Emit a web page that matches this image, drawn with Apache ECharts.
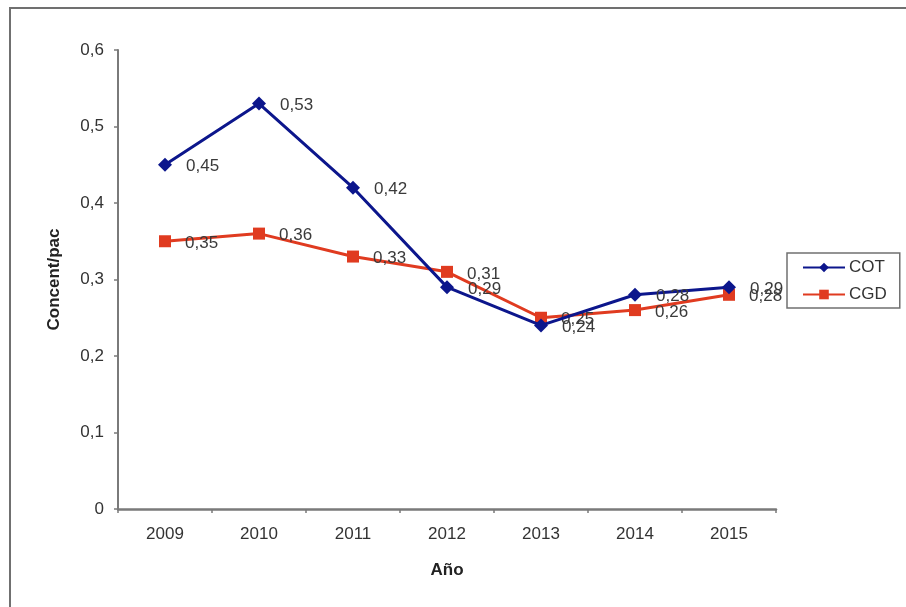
<!DOCTYPE html>
<html>
<head>
<meta charset="utf-8">
<script src="https://cdn.jsdelivr.net/npm/echarts@6/dist/echarts.min.js"></script>
<style>
  html, body { margin: 0; padding: 0; background: #fff; }
  #chart { width: 906px; height: 607px; }
</style>
</head>
<body>
<div id="chart"></div>
<script>
// Years on the category axis
const years = ['2009', '2010', '2011', '2012', '2013', '2014', '2015'];
// Concentrations per patient
const cotValues = [0.45, 0.53, 0.42, 0.29, 0.24, 0.28, 0.29];
const cgdValues = [0.35, 0.36, 0.33, 0.31, 0.25, 0.26, 0.28];
// Value axis ticks
const yTicks = [0, 0.1, 0.2, 0.3, 0.4, 0.5, 0.6];

const FONT = '"Liberation Sans", Arial, sans-serif';
const comma = v => String(v).replace('.', ',');

const chart = echarts.init(document.getElementById('chart'), null, { renderer: 'canvas' });

chart.setOption({
  backgroundColor: '#ffffff',
  animation: false,
  graphic: [{
    type: 'rect',
    shape: { x: 10, y: 8, width: 910, height: 610 },
    style: { fill: 'none', stroke: '#707070', lineWidth: 2 },
    silent: true
  }],
  grid: { left: 118, right: 130, top: 50, bottom: 98, containLabel: false },
  legend: {
    left: 787, top: 253,
    width: 111,
    orient: 'vertical',
    itemGap: 10,
    itemWidth: 42, itemHeight: 12,
    itemStyle: { borderWidth: 0 },
    padding: [6, 13, 5, 15],
    borderColor: '#707070', borderWidth: 1.5,
    textStyle: { fontFamily: FONT, fontSize: 17, color: '#333', padding: [0, 0, 0, -1] },
    data: ['COT', 'CGD']
  },
  xAxis: {
    type: 'category',
    data: years,
    boundaryGap: true,
    name: 'Año',
    nameLocation: 'middle',
    nameGap: 53,
    nameTextStyle: { fontFamily: FONT, fontSize: 17, fontWeight: 'bold', color: '#222' },
    axisLine: { lineStyle: { color: '#7a7a7a', width: 2.5 } },
    axisTick: { show: true, length: 4, lineStyle: { color: '#7a7a7a', width: 1.5 } },
    axisLabel: { fontFamily: FONT, fontSize: 17, color: '#333', margin: 17 }
  },
  yAxis: {
    type: 'value',
    min: yTicks[0], max: yTicks[yTicks.length - 1], interval: 0.1,
    name: 'Concent/pac',
    nameLocation: 'middle',
    nameGap: 55,
    nameRotate: 90,
    nameTextStyle: { fontFamily: FONT, fontSize: 17, fontWeight: 'bold', color: '#222' },
    splitLine: { show: false },
    axisLine: { show: true, lineStyle: { color: '#7a7a7a', width: 2 } },
    axisTick: { show: true, length: 4, lineStyle: { color: '#7a7a7a', width: 1.5 } },
    axisLabel: {
      fontFamily: FONT, fontSize: 17, color: '#333', margin: 14,
      formatter: v => comma(Math.round(v * 10) / 10)
    }
  },
  series: [
    {
      name: 'COT',
      type: 'line',
      data: cotValues,
      symbol: 'diamond',
      symbolSize: 14,
      z: 3,
      lineStyle: { color: '#0c168c', width: 3 },
      itemStyle: { color: '#0c168c' },
      label: {
        show: true, position: 'right', distance: 14, offset: [0, 2],
        fontFamily: FONT, fontSize: 17, color: '#3a3a3a',
        formatter: p => comma(p.value)
      }
    },
    {
      name: 'CGD',
      type: 'line',
      data: cgdValues,
      symbol: 'rect',
      symbolSize: 12,
      z: 2,
      lineStyle: { color: '#e03b20', width: 3 },
      itemStyle: { color: '#e03b20' },
      label: {
        show: true, position: 'right', distance: 14, offset: [0, 2],
        fontFamily: FONT, fontSize: 17, color: '#3a3a3a',
        formatter: p => comma(p.value)
      }
    }
  ]
});
</script>
</body>
</html>
